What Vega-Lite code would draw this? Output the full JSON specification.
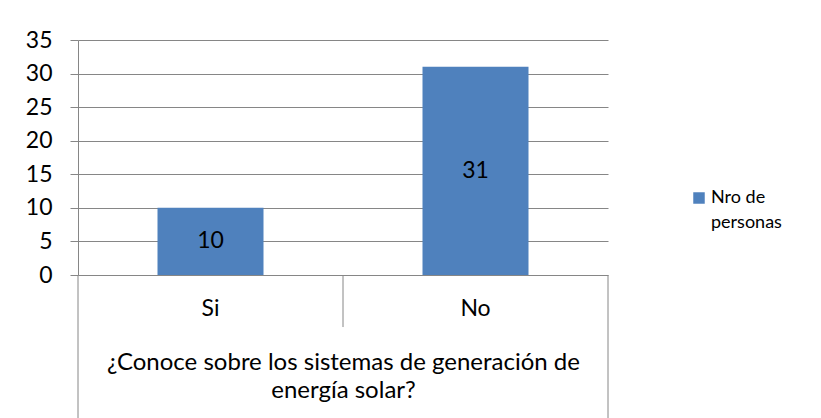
{
  "$schema": "https://vega.github.io/schema/vega-lite/v6.json",
  "width": 530,
  "height": 235,
  "autosize": {"type": "none"},
  "padding": {"left": 78, "top": 40, "right": 213, "bottom": 143},
  "background": "white",
  "config": {
    "view": {"stroke": null},
    "font": "Lato",
    "legend": {"padding": 0},
    "style": {"guide-label": {"lineHeight": 25}}
  },
  "data": {
    "values": [
      {"respuesta": "Si", "personas": 10, "serie": "Nro de personas"},
      {"respuesta": "No", "personas": 31, "serie": "Nro de personas"}
    ]
  },
  "resolve": {"scale": {"y": "independent"}},
  "layer": [
    {
      "mark": {"type": "bar", "width": {"band": 0.4}},
      "encoding": {
        "x": {
          "field": "respuesta",
          "type": "nominal",
          "sort": ["Si", "No"],
          "scale": {"paddingInner": 0, "paddingOuter": 0},
          "title": ["¿Conoce sobre los sistemas de generación de", "energía solar?"],
          "axis": {
            "domain": false,
            "ticks": false,
            "labelAngle": 0,
            "labelFontSize": 23,
            "labelColor": "#000000",
            "labelPadding": 22,
            "titleFontSize": 24,
            "titleFontWeight": "normal",
            "titleColor": "#000000",
            "titlePadding": 30,
            "titleLineHeight": 28
          }
        },
        "y": {
          "field": "personas",
          "type": "quantitative",
          "scale": {"domain": [0, 35], "nice": false},
          "title": null,
          "axis": {
            "values": [0, 5, 10, 15, 20, 25, 30, 35],
            "grid": true,
            "gridColor": "#868686",
            "gridWidth": 1,
            "domainColor": "#868686",
            "tickColor": "#868686",
            "tickSize": 8,
            "labelPadding": 18,
            "labelFontSize": 23,
            "labelColor": "#000000"
          }
        },
        "color": {
          "field": "serie",
          "type": "nominal",
          "scale": {"range": ["#4F81BD"]},
          "legend": {
            "title": null,
            "orient": "none",
            "legendX": 612,
            "legendY": 149,
            "symbolType": "square",
            "symbolSize": 132,
            "symbolStrokeWidth": 0,
            "labelOffset": 3,
            "labelFontSize": 18,
            "labelColor": "#000000",
            "labelExpr": "['Nro de', 'personas']"
          }
        }
      }
    },
    {
      "mark": {"type": "text", "fontSize": 23, "color": "#000000", "baseline": "middle"},
      "encoding": {
        "x": {"field": "respuesta", "type": "nominal", "sort": ["Si", "No"]},
        "y": {"field": "personas", "type": "quantitative", "scale": {"domain": [0, 70], "nice": false}, "axis": null},
        "text": {"field": "personas", "type": "quantitative"}
      }
    },
    {
      "transform": [{"filter": "datum.respuesta == 'Si'"}],
      "mark": {"type": "rule", "color": "#868686", "strokeWidth": 1},
      "encoding": {
        "x": {"field": "respuesta", "type": "nominal", "sort": ["Si", "No"], "bandPosition": 0},
        "y": {"datum": 0, "type": "quantitative", "scale": {"domain": [0, 35], "nice": false}, "axis": null},
        "y2": {"datum": -22}
      }
    },
    {
      "transform": [{"filter": "datum.respuesta == 'No'"}],
      "mark": {"type": "rule", "color": "#868686", "strokeWidth": 1},
      "encoding": {
        "x": {"field": "respuesta", "type": "nominal", "sort": ["Si", "No"], "bandPosition": 0},
        "y": {"datum": 0, "type": "quantitative", "scale": {"domain": [0, 35], "nice": false}, "axis": null},
        "y2": {"datum": -7.75}
      }
    },
    {
      "transform": [{"filter": "datum.respuesta == 'No'"}],
      "mark": {"type": "rule", "color": "#868686", "strokeWidth": 1},
      "encoding": {
        "x": {"field": "respuesta", "type": "nominal", "sort": ["Si", "No"], "bandPosition": 1},
        "y": {"datum": 0, "type": "quantitative", "scale": {"domain": [0, 35], "nice": false}, "axis": null},
        "y2": {"datum": -22}
      }
    }
  ]
}
